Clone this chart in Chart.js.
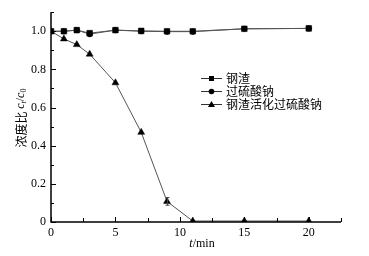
<!DOCTYPE html>
<html>
<head>
<meta charset="utf-8">
<script src="https://cdn.jsdelivr.net/npm/chart.js@4.4.0/dist/chart.umd.min.js"></script>
<style>
  html, body { margin: 0; padding: 0; background: #fff; }
  #wrap { width: 369px; height: 256px; }
</style>
</head>
<body>
<div id="wrap"><canvas id="c" width="369" height="256"></canvas></div>
<script>
// time points (min)
const times = [0, 1, 2, 3, 5, 7, 9, 11, 15, 20];
// concentration ratio ct/c0
const slag = [1.0, 1.0, 1.006, 0.99, 1.006, 1.002, 1.0, 1.0, 1.013, 1.015];
const persulfate = [1.0, 1.0, 1.006, 0.985, 1.006, 1.0, 0.998, 0.998, 1.013, 1.015];
const activated = [1.0, 0.96, 0.93, 0.88, 0.73, 0.47, 0.108, 0.005, 0.005, 0.005];
const activatedErr = [0, 0, 0, 0, 0, 0, 0.02, 0, 0, 0];
const seriesNames = ["钢渣", "过硫酸钠", "钢渣活化过硫酸钠"];
const xTicks = [0, 5, 10, 15, 20];
const xMinor = [2.5, 7.5, 12.5, 17.5, 22.5];
const yTicks = [0, 0.2, 0.4, 0.6, 0.8, 1.0];
const yMinor = [0.1, 0.3, 0.5, 0.7, 0.9, 1.1];

const serif = "'Liberation Serif', 'DejaVu Serif', serif";
const cjk = "'Noto Sans CJK SC', 'Noto Sans', sans-serif";

const pts = (ys) => times.map((t, i) => ({ x: t, y: ys[i] }));

const ds = (label, ys, style, radius, order) => ({
  label,
  data: pts(ys),
  order,
  borderColor: "#555",
  borderWidth: 1,
  backgroundColor: "#000",
  pointBorderColor: "#000",
  pointBackgroundColor: "#000",
  pointStyle: style,
  pointRadius: radius,
  pointBorderWidth: 0.5,
  tension: 0,
});

// inward ticks, error bars, axis titles and legend
const decor = {
  id: "decor",
  afterDatasetsDraw(chart) {
    const { ctx, chartArea: a, scales: { x, y } } = chart;
    ctx.save();
    ctx.lineWidth = 1;

    // error bars on activated series
    ctx.strokeStyle = "#444";
    activatedErr.forEach((e, i) => {
      if (!e) return;
      const px = Math.round(x.getPixelForValue(times[i])) + 0.5;
      const y1 = y.getPixelForValue(activated[i] + e);
      const y2 = y.getPixelForValue(activated[i] - e);
      ctx.beginPath();
      ctx.moveTo(px, y1); ctx.lineTo(px, y2);
      ctx.moveTo(px - 2, y1); ctx.lineTo(px + 2, y1);
      ctx.moveTo(px - 2, y2); ctx.lineTo(px + 2, y2);
      ctx.stroke();
    });

    // axes
    ctx.strokeStyle = "#000";
    ctx.lineWidth = 1.5;
    ctx.beginPath();
    ctx.moveTo(a.left, a.top);
    ctx.lineTo(a.left, a.bottom);
    ctx.lineTo(a.right, a.bottom);
    ctx.stroke();

    ctx.lineWidth = 1;
    ctx.beginPath();
    xTicks.concat(xMinor).forEach((v) => {
      const px = Math.round(x.getPixelForValue(v)) + 0.5;
      const len = xTicks.includes(v) ? 5 : 4;
      ctx.moveTo(px, a.bottom); ctx.lineTo(px, a.bottom - len);
    });
    yTicks.concat(yMinor).forEach((v) => {
      const py = Math.round(y.getPixelForValue(v)) + 0.5;
      const len = yTicks.includes(v) ? 5 : 3;
      ctx.moveTo(a.left, py); ctx.lineTo(a.left + len, py);
    });
    ctx.stroke();

    // x title
    ctx.fillStyle = "#000";
    ctx.textBaseline = "middle";
    ctx.font = "italic 12px " + serif;
    const tW = ctx.measureText("t").width;
    ctx.font = "12px " + serif;
    const restW = ctx.measureText("/min").width;
    const sx = 202 - (tW + restW) / 2;
    ctx.font = "italic 12px " + serif;
    ctx.textAlign = "left";
    ctx.fillText("t", sx, 244);
    ctx.font = "12px " + serif;
    ctx.fillText("/min", sx + tW, 244);

    // y title (rotated)
    ctx.save();
    ctx.translate(21, 118);
    ctx.rotate(-Math.PI / 2);
    const parts = [
      { t: "浓度比 ", f: "12px " + cjk, dy: 0 },
      { t: "c", f: "italic 12px " + serif, dy: 0 },
      { t: "t", f: "italic 8px " + serif, dy: 3 },
      { t: "/", f: "12px " + serif, dy: 0 },
      { t: "c", f: "italic 12px " + serif, dy: 0 },
      { t: "0", f: "8px " + serif, dy: 3 },
    ];
    let total = 0;
    parts.forEach((p) => { ctx.font = p.f; p.w = ctx.measureText(p.t).width; total += p.w; });
    let cx = -total / 2;
    parts.forEach((p) => {
      ctx.font = p.f;
      ctx.fillText(p.t, cx, p.dy);
      cx += p.w;
    });
    ctx.restore();

    // legend
    const rows = [78, 91, 104];
    chart.data.datasets.forEach((d, i) => {
      const ly = rows[i] + 0.5;
      ctx.strokeStyle = "#333";
      ctx.beginPath();
      ctx.moveTo(201, ly); ctx.lineTo(222, ly);
      ctx.stroke();
      ctx.fillStyle = "#000";
      const mx = 211.5;
      ctx.beginPath();
      if (d.pointStyle === "rect") {
        ctx.rect(mx - 2.5, ly - 2.5, 5, 5);
      } else if (d.pointStyle === "circle") {
        ctx.arc(mx, ly, 2.8, 0, Math.PI * 2);
      } else {
        ctx.moveTo(mx, ly - 3.5); ctx.lineTo(mx + 3.5, ly + 2.5); ctx.lineTo(mx - 3.5, ly + 2.5);
        ctx.closePath();
      }
      ctx.fill();
      ctx.font = "12px " + cjk;
      ctx.textAlign = "left";
      ctx.fillText(d.label, 226, rows[i]);
    });
    ctx.restore();
  },
};

new Chart(document.getElementById("c"), {
  type: "line",
  data: {
    datasets: [
      ds(seriesNames[0], slag, "rect", 4, 0),
      ds(seriesNames[1], persulfate, "circle", 2.8, 1),
      ds(seriesNames[2], activated, "triangle", 4, 2),
    ],
  },
  options: {
    responsive: false,
    animation: false,
    layout: { padding: { top: 5, right: 28, left: 0, bottom: 0 } },
    plugins: { legend: { display: false }, tooltip: { enabled: false } },
    scales: {
      x: {
        type: "linear",
        min: 0,
        max: 22.5,
        afterFit: (s) => { s.height = 34; },
        afterBuildTicks: (s) => { s.ticks = xTicks.map((v) => ({ value: v })); },
        grid: { display: false, drawTicks: false },
        border: { display: false },
        ticks: {
          padding: 4,
          color: "#000",
          font: { family: serif, size: 12 },
          maxRotation: 0,
          callback: (v) => String(v),
        },
      },
      y: {
        min: 0,
        max: 1.1,
        afterFit: (s) => { s.width = 51; },
        afterBuildTicks: (s) => { s.ticks = yTicks.map((v) => ({ value: v })); },
        grid: { display: false, drawTicks: false },
        border: { display: false },
        ticks: {
          padding: 5,
          color: "#000",
          font: { family: serif, size: 12 },
          callback: (v) => (v === 0 ? "0" : v.toFixed(1)),
        },
      },
    },
  },
  plugins: [decor],
});
</script>
</body>
</html>
